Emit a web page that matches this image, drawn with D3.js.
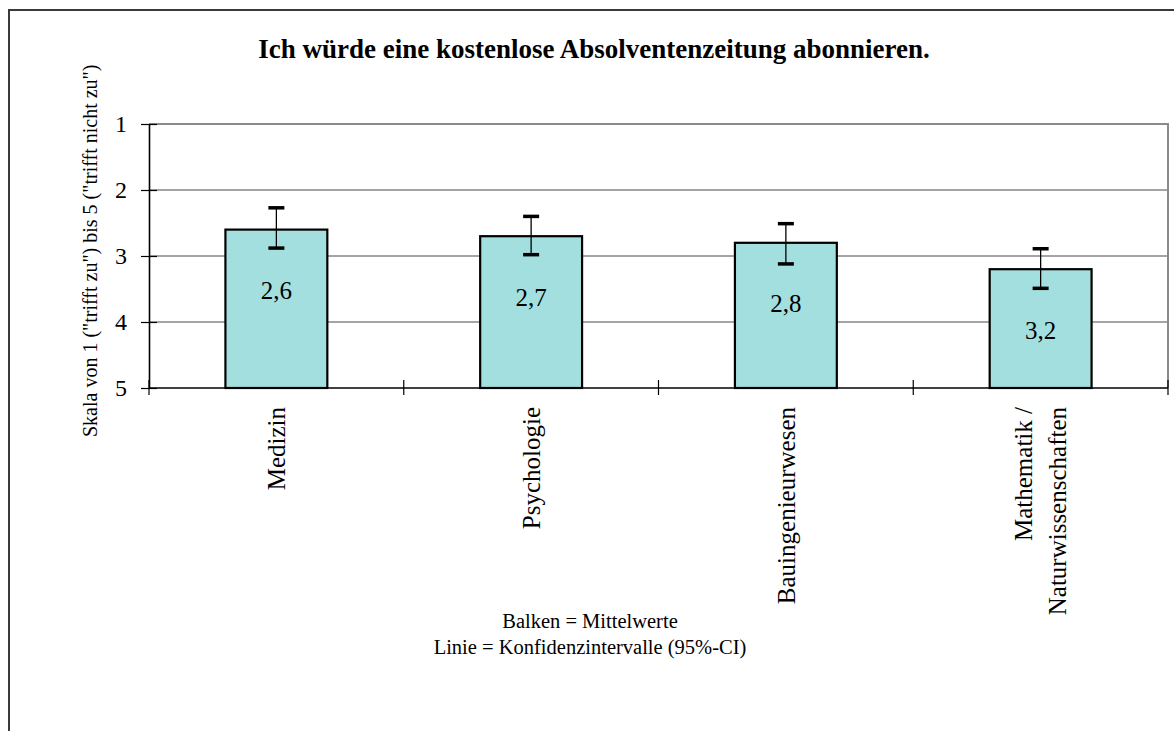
<!DOCTYPE html>
<html>
<head>
    <meta charset="utf-8">
    <title>Absolventenzeitung</title>
    <script src="https://cdn.jsdelivr.net/npm/d3@7/dist/d3.min.js"></script>
    <style>
        body { margin: 0; background: #fff; }
    </style>
</head>

<body>
    <script>
        var categories = ["Medizin", "Psychologie", "Bauingenieurwesen", "Mathematik /\nNaturwissenschaften"];
        var means      = [2.6, 2.7, 2.8, 3.2];
        var ciLower    = [2.27, 2.40, 2.51, 2.89];   // upper end on screen (smaller value)
        var ciUpper    = [2.88, 2.98, 3.12, 3.49];
        var yTicks     = [1, 2, 3, 4, 5];

        var width = 1174;
        var height = 731;
        var plot = {left: 149, right: 1168, top: 124, bottom: 388};
        var FONT = "'Liberation Serif', 'Times New Roman', 'DejaVu Serif', serif";

        var data = categories.map(function(c, i) {
            return {name: c, mean: means[i], lo: ciLower[i], hi: ciUpper[i]};
        });

        var svg = d3.select("body").append("svg")
            .attr("width", width)
            .attr("height", height)
            .style("font-family", FONT);

        // outer frame (runs off the page on right and bottom)
        svg.append("rect")
            .attr("x", 9).attr("y", 10)
            .attr("width", 1300).attr("height", 900)
            .attr("fill", "none")
            .attr("stroke", "#3a3a3a")
            .attr("stroke-width", 2);

        var xScale = d3.scaleBand()
            .domain(categories)
            .range([plot.left, plot.right])
            .paddingInner(0.6)
            .paddingOuter(0.3);

        var yScale = d3.scaleLinear()
            .domain([1, 5])           // 1 at top, 5 at bottom
            .range([plot.top, plot.bottom]);

        var step = xScale.step();

        // grid lines
        svg.append("g")
            .selectAll("line")
            .data(yTicks.filter(function(d) { return d > 1 && d < 5; }))
            .enter()
            .append("line")
            .attr("x1", plot.left).attr("x2", plot.right)
            .attr("y1", function(d) { return yScale(d); })
            .attr("y2", function(d) { return yScale(d); })
            .attr("stroke", "#4a4a4a")
            .attr("stroke-width", 1);

        // plot area border top + right (grey)
        svg.append("path")
            .attr("d", "M" + plot.left + "," + yScale(1) + "H" + plot.right + "V" + yScale(5))
            .attr("fill", "none")
            .attr("stroke", "#8a8a8a")
            .attr("stroke-width", 2);

        // bars, drawn from the mean down to 5
        svg.append("g")
            .selectAll("rect")
            .data(data)
            .enter()
            .append("rect")
            .attr("x", function(d) { return xScale(d.name); })
            .attr("y", function(d) { return yScale(d.mean); })
            .attr("width", xScale.bandwidth())
            .attr("height", function(d) { return yScale(5) - yScale(d.mean); })
            .attr("fill", "#a3dfdf")
            .attr("stroke", "#000")
            .attr("stroke-width", 2.2);

        // error bars
        var err = svg.append("g")
            .selectAll("g")
            .data(data)
            .enter()
            .append("g")
            .attr("transform", function(d) {
                return "translate(" + (xScale(d.name) + xScale.bandwidth() / 2) + ",0)";
            });

        err.append("line")
            .attr("y1", function(d) { return yScale(d.lo); })
            .attr("y2", function(d) { return yScale(d.hi); })
            .attr("stroke", "#000")
            .attr("stroke-width", 1.3);

        err.selectAll(".cap")
            .data(function(d) { return [d.lo, d.hi]; })
            .enter()
            .append("line")
            .attr("class", "cap")
            .attr("x1", -8).attr("x2", 8)
            .attr("y1", function(v) { return yScale(v); })
            .attr("y2", function(v) { return yScale(v); })
            .attr("stroke", "#000")
            .attr("stroke-width", 3.5);

        // value labels inside the bars
        svg.append("g")
            .selectAll("text")
            .data(data)
            .enter()
            .append("text")
            .attr("x", function(d) { return xScale(d.name) + xScale.bandwidth() / 2; })
            .attr("y", function(d) { return yScale(d.mean + 1.05); })
            .attr("text-anchor", "middle")
            .attr("font-family", FONT)
            .style("font-size", "25px")
            .text(function(d) { return String(d.mean).replace(".", ","); });

        // y axis
        var yAxis = d3.axisLeft(yScale)
            .tickValues(yTicks)
            .tickSizeInner(8)
            .tickSizeOuter(0)
            .tickPadding(14)
            .tickFormat(d3.format("d"));

        var gy = svg.append("g")
            .attr("transform", "translate(" + plot.left + ",0)")
            .call(yAxis)
            .attr("font-family", FONT)
            .attr("font-size", 24);
        gy.select(".domain").attr("stroke", "#000").attr("stroke-width", 1.6);
        gy.selectAll(".tick line")
            .attr("x2", 8).attr("x1", -8)
            .attr("stroke", "#000").attr("stroke-width", 1.2);
        gy.selectAll(".tick text")
            .attr("font-family", FONT)
            .style("font-size", "24px");

        // x axis: ticks between categories, crossing the axis line
        var xBounds = d3.range(categories.length + 1).map(function(i) {
            return plot.left + i * step;
        });

        svg.append("line")
            .attr("x1", plot.left).attr("x2", plot.right)
            .attr("y1", yScale(5)).attr("y2", yScale(5))
            .attr("stroke", "#000").attr("stroke-width", 1.6);

        svg.append("g")
            .selectAll("line")
            .data(xBounds)
            .enter()
            .append("line")
            .attr("x1", function(d) { return d; })
            .attr("x2", function(d) { return d; })
            .attr("y1", yScale(5) - 8)
            .attr("y2", yScale(5) + 7)
            .attr("stroke", "#000")
            .attr("stroke-width", 1.2);

        // category labels, rotated
        var catLabels = svg.append("g")
            .selectAll("text")
            .data(categories)
            .enter()
            .append("text")
            .attr("transform", function(d) {
                return "translate(" + (xScale(d) + xScale.bandwidth() / 2) + "," + (yScale(5) + 19) + ") rotate(-90)";
            })
            .attr("text-anchor", "end")
            .attr("font-family", FONT)
            .style("font-size", "25px");

        catLabels.each(function(d) {
            var lines = d.split("\n");
            var t = d3.select(this);
            var lh = 34;
            lines.forEach(function(l, i) {
                t.append("tspan")
                    .attr("x", 0)
                    .attr("y", (i - (lines.length - 1) / 2) * lh)
                    .attr("dy", "0.35em")
                    .text(l);
            });
        });

        // y axis title
        svg.append("text")
            .attr("transform", "translate(97,437) rotate(-90)")
            .attr("text-anchor", "start")
            .attr("font-family", FONT)
            .style("font-size", "20px")
            .text('Skala von 1 ("trifft zu") bis 5 ("trifft nicht zu")');

        // chart title
        svg.append("text")
            .attr("x", 594)
            .attr("y", 58)
            .attr("text-anchor", "middle")
            .attr("font-family", FONT)
            .style("font-size", "27px")
            .style("font-weight", "bold")
            .text("Ich würde eine kostenlose Absolventenzeitung abonnieren.");

        // notes under the chart
        svg.append("g")
            .selectAll("text")
            .data(["Balken = Mittelwerte", "Linie = Konfidenzintervalle (95%-CI)"])
            .enter()
            .append("text")
            .attr("x", 590)
            .attr("y", function(d, i) { return 628 + i * 26; })
            .attr("text-anchor", "middle")
            .attr("font-family", FONT)
            .style("font-size", "20.5px")
            .text(function(d) { return d; });
    </script>
</body>
</html>
